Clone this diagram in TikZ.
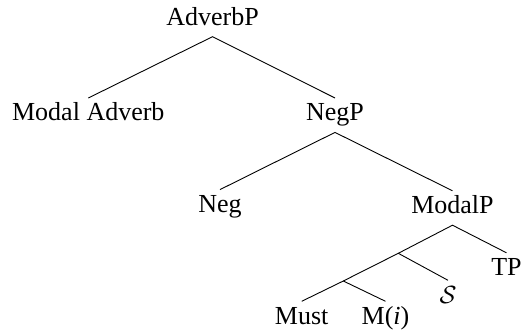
\documentclass[tikz,border=0pt]{standalone}
\usepackage{fontspec}
\setmainfont{Liberation Serif}
\begin{document}
\begin{tikzpicture}[x=1pt,y=-1pt,
  lbl/.style={anchor=base,inner xsep=0pt,inner ysep=5pt,text height=17.5pt,text depth=6.5pt,font=\fontsize{26}{30}\selectfont},
  edge/.style={draw=black,line width=0.9pt}]
\useasboundingbox (0,0) rectangle (523,330);
\node[lbl] (adv) at (212.5,25) {AdverbP};
\node[lbl] (madv) at (88.3,120.7) {Modal Adverb};
\node[lbl] (negp) at (335,120.7) {NegP};
\node[lbl] (neg) at (220,212.3) {Neg};
\node[lbl] (modp) at (452.5,213.5) {ModalP};
\node[lbl] (tp) at (506.5,275.5) {TP};
\node[lbl] (s) at (448,303) {$\mathcal{S}$};
\node[lbl] (must) at (301.7,324) {Must};
\node[lbl] (mi) at (385.5,324) {M(\textit{i})};
\coordinate (a) at (398.3,253.3);
\coordinate (b) at (343.3,281);
\draw[edge] (madv.north) -- (adv.south) -- (negp.north);
\draw[edge] (neg.north) -- (negp.south) -- (modp.north);
\draw[edge] (a) -- (modp.south) -- (tp.north);
\draw[edge] (b) -- (a) -- (s.north);
\draw[edge] (must.north) -- (b) -- (mi.north);
\end{tikzpicture}
\end{document}
